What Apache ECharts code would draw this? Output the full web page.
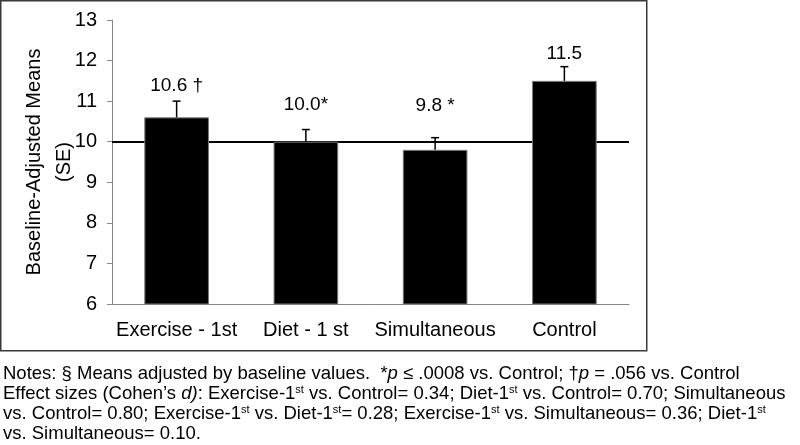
<!DOCTYPE html>
<html>
<head>
<meta charset="utf-8">
<script src="https://cdn.jsdelivr.net/npm/echarts@6/dist/echarts.min.js"></script>
<style>
html,body{margin:0;padding:0;background:#fff;}
#chart{width:800px;height:445px;}
</style>
</head>
<body>
<div id="chart"></div>
<script>
// ---- data ----
const categories = ['Exercise - 1st', 'Diet - 1 st', 'Simultaneous', 'Control'];
const means = [10.6, 10.0, 9.8, 11.5];
const stdErrors = [0.4, 0.3, 0.3, 0.35];
const barLabels = ['10.6 \u2020', '10.0*', '9.8 *', '11.5'];
const referenceValue = 10;
const yTicks = { min: 6, max: 13, interval: 1 };
const axisTitle = 'Baseline-Adjusted Means\n(SE)';

// ---- styling (pixel lift of each label above its error bar top) ----
const labelLift = [15, 25, 32, 13];
const FONT = 'Liberation Sans, Arial, sans-serif';

const chart = echarts.init(document.getElementById('chart'), null, { renderer: 'canvas' });

const errData = means.map((m, i) => [i, m, stdErrors[i]]);

const NF = 18.5;
const rich = {
  n: { fontFamily: FONT, fontSize: NF, color: '#000', lineHeight: 20 },
  i: { fontFamily: FONT, fontSize: NF, color: '#000', fontStyle: 'italic', lineHeight: 20 },
  s: { fontFamily: FONT, fontSize: 11, color: '#000', verticalAlign: 'top', lineHeight: 20 }
};
const noteLines = [
  '{n|Notes: \u00a7 Means adjusted by baseline values.  *}{i|p}{n| \u2264 .0008 vs. Control; \u2020}{i|p}{n| = .056 vs. Control}',
  '{n|Effect sizes (Cohen\u2019s }{i|d)}{n|: Exercise-1}{s|st}{n| vs. Control= 0.34; Diet-1}{s|st}{n| vs. Control= 0.70; Simultaneous}',
  '{n|vs. Control= 0.80; Exercise-1}{s|st}{n| vs. Diet-1}{s|st}{n|= 0.28; Exercise-1}{s|st}{n| vs. Simultaneous= 0.36; Diet-1}{s|st}',
  '{n|vs. Simultaneous= 0.10.}'
];
const noteY = [374, 394, 414, 434];

const option = {
  backgroundColor: '#fff',
  animation: false,
  grid: { left: 112, right: 171, top: 20, bottom: 141, containLabel: false, outerBoundsMode: 'none' },
  xAxis: {
    type: 'category',
    data: categories,
    axisLine: { show: true, lineStyle: { color: '#868686', width: 1 } },
    axisTick: { show: false },
    axisLabel: { color: '#000', fontSize: 20, fontFamily: FONT, margin: 16, interval: 0 },
    splitLine: { show: false }
  },
  yAxis: {
    type: 'value',
    min: yTicks.min, max: yTicks.max, interval: yTicks.interval,
    name: axisTitle,
    nameLocation: 'middle',
    nameGap: 33,
    nameMoveOverlap: false,
    nameTextStyle: { color: '#000', fontSize: 20, fontFamily: FONT, lineHeight: 30 },
    axisLine: { show: true, lineStyle: { color: '#868686', width: 1 } },
    axisTick: { show: true, length: 5, lineStyle: { color: '#868686' } },
    axisLabel: { color: '#000', fontSize: 20, fontFamily: FONT, margin: 15 },
    splitLine: { show: false }
  },
  series: [
    {
      type: 'bar',
      data: means,
      barWidth: '50%',
      itemStyle: { color: '#000', borderColor: '#7a7a7a', borderWidth: 1 },
      z: 2,
      markLine: {
        silent: true,
        symbol: 'none',
        label: { show: false },
        lineStyle: { color: '#000', width: 2, type: 'solid' },
        data: [{ yAxis: referenceValue }],
        z: 1
      }
    },
    {
      type: 'custom',
      data: errData,
      z: 5,
      renderItem: function (params, api) {
        const i = api.value(0);
        const m = api.value(1);
        const se = api.value(2);
        const base = api.coord([i, m]);
        const top = api.coord([i, m + se]);
        const cap = 4;
        return {
          type: 'group',
          children: [
            { type: 'line', shape: { x1: base[0], y1: base[1], x2: top[0], y2: top[1] }, style: { stroke: '#000', lineWidth: 1.5 } },
            { type: 'line', shape: { x1: top[0] - cap, y1: top[1], x2: top[0] + cap, y2: top[1] }, style: { stroke: '#000', lineWidth: 1.5 } },
            { type: 'text', x: top[0], y: top[1] - labelLift[params.dataIndex],
              style: { text: barLabels[params.dataIndex], fontSize: 19, fontFamily: FONT, fill: '#000', align: 'center', verticalAlign: 'middle' } }
          ]
        };
      }
    }
  ],
  graphic: [
    { type: 'rect', shape: { x: 0.75, y: 0.75, width: 646, height: 350 }, style: { fill: 'none', stroke: '#3a3a3a', lineWidth: 1.5 }, z: 0, silent: true }
  ].concat(noteLines.map((t, k) => ({
    type: 'text', left: 3, top: noteY[k] - 10,
    style: { text: t, rich: rich, fontFamily: FONT, fontSize: NF, fill: '#000' }
  })))
};

chart.setOption(option);
</script>
</body>
</html>
